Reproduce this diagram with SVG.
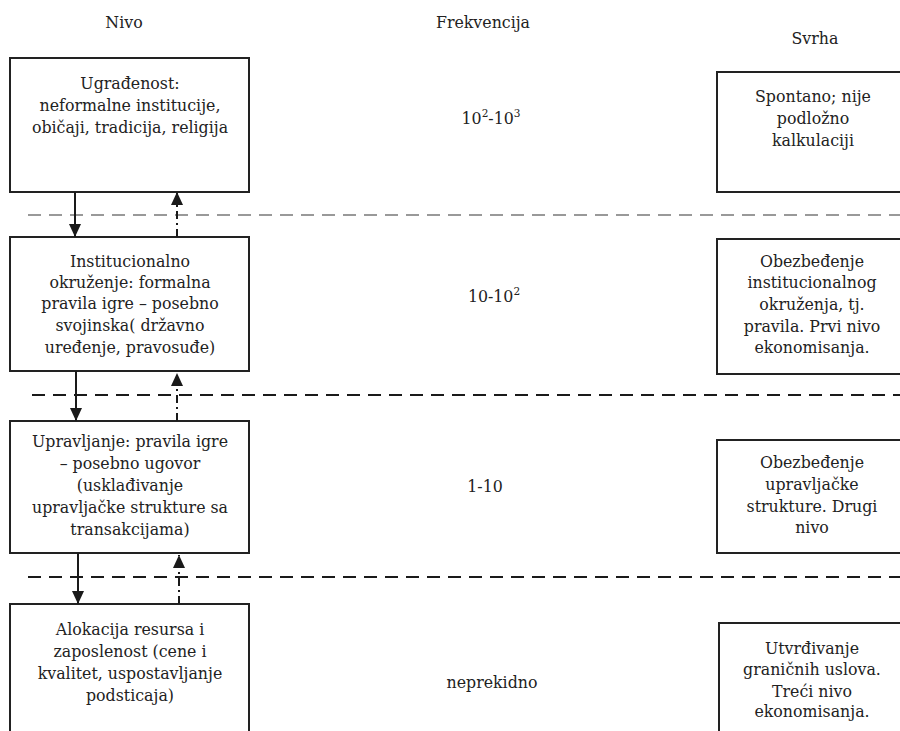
<svg xmlns="http://www.w3.org/2000/svg" width="900" height="731" viewBox="0 0 900 731">
<defs>
<marker id="ah" markerWidth="14" markerHeight="12" refX="13" refY="6" orient="auto" markerUnits="userSpaceOnUse" viewBox="0 0 14 12">
<path d="M0,0 L13,6 L0,12 Z" fill="#1a1a1a"/>
</marker>
</defs>
<style>
text{font-family:"DejaVu Serif",serif;font-size:15.8px;fill:#222;text-anchor:middle}
.box{fill:#fff;stroke:#222;stroke-width:2}
.down{stroke:#1a1a1a;stroke-width:2;fill:none}
.up{stroke:#1a1a1a;stroke-width:2;fill:none;stroke-dasharray:8 4 2 4}
.sepg{stroke:#999;stroke-width:2;stroke-dasharray:13 8}
.sepb{stroke:#1a1a1a;stroke-width:2;stroke-dasharray:13 8}
</style>
<rect width="900" height="731" fill="#fff"/>
<g id="headers">
<text x="124" y="28">Nivo</text>
<text x="483" y="28">Frekvencija</text>
<text x="815" y="44">Svrha</text>
</g>
<g id="separators">
<line class="sepg" x1="28" y1="215" x2="900" y2="215"/>
<line class="sepb" x1="32" y1="395" x2="900" y2="395"/>
<line class="sepb" x1="28" y1="577" x2="900" y2="577"/>
</g>
<g id="level1">
<rect class="box" x="10" y="58" width="239" height="134"/>
<text x="130" y="89">Ugrađenost:</text>
<text x="130" y="111">neformalne institucije,</text>
<text x="130" y="133">običaji, tradicija, religija</text>
</g>
<g id="level2">
<rect class="box" x="10" y="237" width="239" height="134"/>
<text x="130" y="267">Institucionalno</text>
<text x="130" y="288">okruženje: formalna</text>
<text x="130" y="309">pravila igre – posebno</text>
<text x="130" y="331">svojinska( državno</text>
<text x="130" y="353">uređenje, pravosuđe)</text>
</g>
<g id="level3">
<rect class="box" x="10" y="421" width="239" height="132"/>
<text x="130" y="447">Upravljanje: pravila igre</text>
<text x="130" y="469">– posebno ugovor</text>
<text x="130" y="491">(usklađivanje</text>
<text x="130" y="513">upravljačke strukture sa</text>
<text x="130" y="535">transakcijama)</text>
</g>
<g id="level4">
<rect class="box" x="10" y="604" width="239" height="140"/>
<text x="130" y="635">Alokacija resursa i</text>
<text x="130" y="657">zaposlenost (cene i</text>
<text x="130" y="679">kvalitet, uspostavljanje</text>
<text x="130" y="701">podsticaja)</text>
</g>
<g id="frequencies">
<text x="491" y="124">10<tspan dy="-7" font-size="10.5">2</tspan><tspan dy="7">-10</tspan><tspan dy="-7" font-size="10.5">3</tspan></text>
<text x="494" y="302">10-10<tspan dy="-7" font-size="10.5">2</tspan></text>
<text x="485" y="492">1-10</text>
<text x="492" y="688">neprekidno</text>
</g>
<g id="purpose1">
<rect class="box" x="717" y="72" width="200" height="120"/>
<text x="813" y="102">Spontano; nije</text>
<text x="813" y="124">podložno</text>
<text x="813" y="146">kalkulaciji</text>
</g>
<g id="purpose2">
<rect class="box" x="717" y="239" width="200" height="135"/>
<text x="812" y="267">Obezbeđenje</text>
<text x="812" y="288">institucionalnog</text>
<text x="812" y="310">okruženja, tj.</text>
<text x="812" y="332">pravila. Prvi nivo</text>
<text x="812" y="353">ekonomisanja.</text>
</g>
<g id="purpose3">
<rect class="box" x="717" y="440" width="200" height="113"/>
<text x="812" y="468">Obezbeđenje</text>
<text x="812" y="490">upravljačke</text>
<text x="812" y="512">strukture. Drugi</text>
<text x="812" y="533">nivo</text>
</g>
<g id="purpose4">
<rect class="box" x="719" y="623" width="200" height="130"/>
<text x="812" y="654">Utvrđivanje</text>
<text x="812" y="675">graničnih uslova.</text>
<text x="812" y="697">Treći nivo</text>
<text x="812" y="717">ekonomisanja.</text>
</g>
<g id="connectors">
<line class="down" x1="75" y1="192" x2="75" y2="237" marker-end="url(#ah)"/>
<line class="up" x1="177" y1="237" x2="177" y2="192" marker-end="url(#ah)"/>
<line class="down" x1="76" y1="371" x2="76" y2="421" marker-end="url(#ah)"/>
<line class="up" x1="177" y1="421" x2="177" y2="373" marker-end="url(#ah)"/>
<line class="down" x1="78" y1="553" x2="78" y2="604" marker-end="url(#ah)"/>
<line class="up" x1="179" y1="604" x2="179" y2="555" marker-end="url(#ah)"/>
</g>
</svg>
